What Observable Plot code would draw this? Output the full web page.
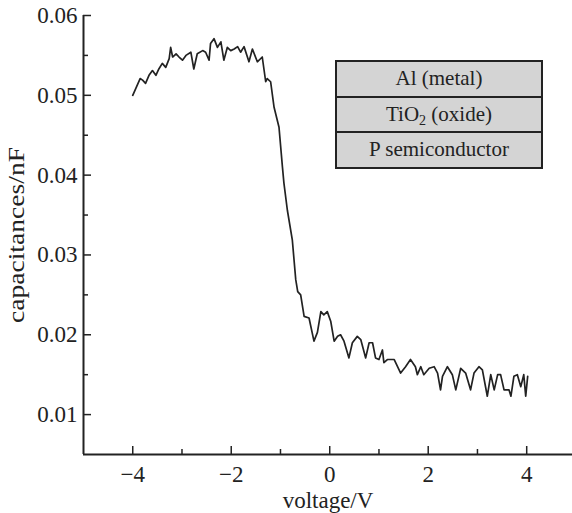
<!DOCTYPE html>
<html>
<head>
<meta charset="utf-8">
<script src="https://cdn.jsdelivr.net/npm/d3@7"></script>
<script src="https://cdn.jsdelivr.net/npm/@observablehq/plot@0.6"></script>
<style>
  html, body { margin: 0; padding: 0; background: #fff; }
  #wrap { position: relative; width: 572px; height: 513px; font-family: "Liberation Serif", "Times New Roman", serif; }
  #layers { position: absolute; left: 335px; top: 60px; width: 204px; border: 2px solid #222; background: #d4d4d4; }
  #layers div { height: 33.5px; line-height: 33.5px; text-align: center; font-size: 21px; color: #222; border-top: 2px solid #222; }
  #layers div:first-child { border-top: none; }
  #layers sub { font-size: 14px; vertical-align: -4px; line-height: 0; }
</style>
</head>
<body>
<div id="wrap"></div>
<script>
// ---- data ----
const voltage = [-4.00,-3.85,-3.80,-3.74,-3.67,-3.60,-3.53,-3.47,-3.40,-3.33,-3.26,-3.23,-3.19,-3.12,-3.06,-2.99,-2.92,-2.82,-2.76,-2.69,-2.58,-2.52,-2.45,-2.42,-2.35,-2.28,-2.21,-2.15,-2.08,-2.01,-1.94,-1.87,-1.81,-1.74,-1.64,-1.57,-1.47,-1.37,-1.30,-1.27,-1.20,-1.13,-1.03,-0.96,-0.93,-0.86,-0.76,-0.69,-0.65,-0.59,-0.52,-0.42,-0.32,-0.25,-0.18,-0.12,-0.05,0.02,0.09,0.16,0.22,0.29,0.39,0.46,0.56,0.63,0.73,0.80,0.87,0.93,1.00,1.07,1.10,1.17,1.24,1.31,1.44,1.54,1.64,1.74,1.78,1.85,1.91,2.02,2.12,2.19,2.25,2.29,2.39,2.49,2.56,2.66,2.76,2.86,2.93,3.03,3.10,3.20,3.27,3.34,3.41,3.47,3.54,3.64,3.68,3.74,3.81,3.88,3.94,3.98,4.02];
const capacitance = [0.0500,0.0521,0.0519,0.0515,0.0525,0.0531,0.0525,0.0533,0.0540,0.0535,0.0546,0.0560,0.0548,0.0552,0.0548,0.0544,0.0550,0.0554,0.0533,0.0552,0.0556,0.0554,0.0544,0.0565,0.0571,0.0560,0.0567,0.0544,0.0560,0.0556,0.0558,0.0561,0.0554,0.0561,0.0542,0.0558,0.0542,0.0548,0.0517,0.0521,0.0517,0.0485,0.0460,0.0410,0.0390,0.0356,0.0319,0.0269,0.0254,0.0250,0.0223,0.0221,0.0192,0.0203,0.0229,0.0225,0.0229,0.0217,0.0192,0.0198,0.0200,0.0192,0.0171,0.0190,0.0198,0.0194,0.0171,0.0190,0.0190,0.0171,0.0169,0.0181,0.0165,0.0169,0.0169,0.0169,0.0152,0.0160,0.0169,0.0160,0.0150,0.0160,0.0150,0.0158,0.0160,0.0152,0.0131,0.0148,0.0160,0.0150,0.0131,0.0158,0.0152,0.0131,0.0152,0.0160,0.0156,0.0123,0.0150,0.0131,0.0150,0.0150,0.0131,0.0131,0.0123,0.0148,0.0150,0.0135,0.0150,0.0123,0.0148];
const xDomain = [-5, 4.93];
const yDomain = [0.005, 0.06];
const xMajorTicks = [-4, -2, 0, 2, 4];
const xMinorTicks = [-3, -1, 1, 3];
const yMajorTicks = [0.01, 0.02, 0.03, 0.04, 0.05, 0.06];
const yMinorTicks = [0.015, 0.025, 0.035, 0.045, 0.055];
const layers = ["Al (metal)", "TiO<sub>2</sub> (oxide)", "P semiconductor"];
const xLabel = "voltage/V";
const yLabel = "capacitances/nF";

const points = voltage.map((v, i) => ({v, c: capacitance[i]}));
const ink = "#222";

const chart = Plot.plot({
  width: 572,
  height: 513,
  marginLeft: 83,
  marginRight: 0,
  marginTop: 15,
  marginBottom: 59,
  style: {fontFamily: "'Liberation Serif', 'Times New Roman', serif", fontSize: "22px", color: ink, background: "transparent", overflow: "visible"},
  x: {domain: xDomain},
  y: {domain: yDomain},
  marks: [
    Plot.axisX({ticks: xMajorTicks, tickSize: -8, tickPadding: 19, strokeWidth: 1.5, fontSize: 23, label: xLabel, labelAnchor: "center", labelArrow: "none", labelOffset: 53}),
    Plot.axisX({ticks: xMinorTicks, tickSize: -5, strokeWidth: 1.5, tickFormat: () => "", label: null}),
    Plot.axisY({ticks: yMajorTicks, tickSize: -8, tickPadding: 14, strokeWidth: 1.5, fontSize: 23, tickFormat: d3.format(".2f"), label: yLabel, labelAnchor: "center", labelArrow: "none", labelOffset: 76}),
    Plot.axisY({ticks: yMinorTicks, tickSize: -5, strokeWidth: 1.5, tickFormat: () => "", label: null}),
    Plot.ruleX([xDomain[0]], {stroke: ink, strokeWidth: 2}),
    Plot.ruleY([yDomain[0]], {stroke: ink, strokeWidth: 2}),
    Plot.line(points, {x: "v", y: "c", stroke: ink, strokeWidth: 1.7, curve: "linear"})
  ]
});

const wrap = document.getElementById("wrap");
wrap.appendChild(chart);
d3.select(chart).selectAll('g[aria-label="y-axis label"] text')
  .attr("textLength", 176).attr("lengthAdjust", "spacingAndGlyphs");
const box = document.createElement("div");
box.id = "layers";
box.innerHTML = layers.map(t => `<div>${t}</div>`).join("");
wrap.appendChild(box);
</script>
</body>
</html>
